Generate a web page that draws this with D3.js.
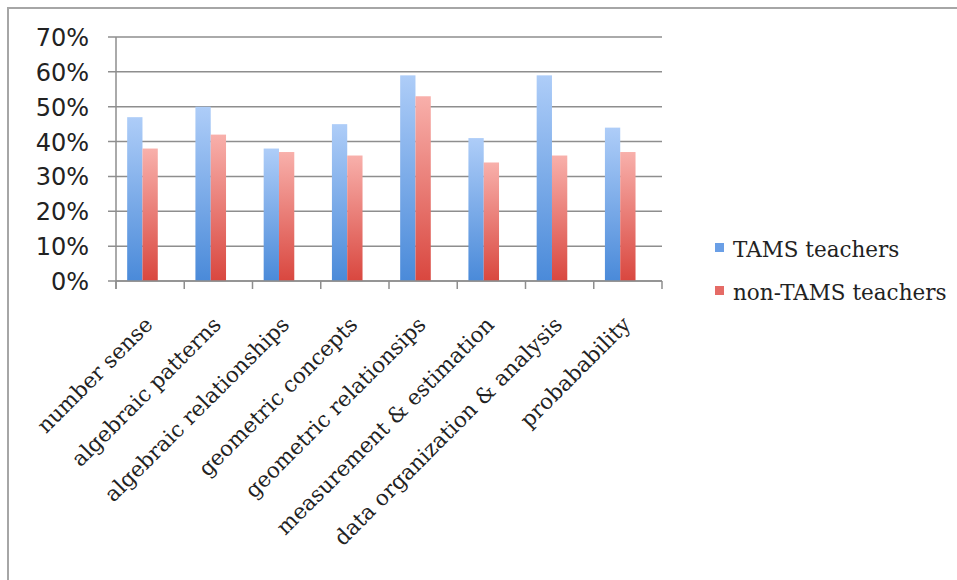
<!DOCTYPE html>
<html><head><meta charset="utf-8">
<script src="https://cdn.jsdelivr.net/npm/d3@7"></script>
<style>body{margin:0;background:#fff}svg{display:block}</style>
</head><body><svg id="c" width="957" height="580"></svg>
<script>
const categories = ["number sense","algebraic patterns","algebraic relationships","geometric concepts","geometric relationsips","measurement & estimation","data organization & analysis","probabability"];
const seriesNames = ["TAMS teachers","non-TAMS teachers"];
const tamsValues = [0.47,0.50,0.38,0.45,0.59,0.41,0.59,0.44];
const nonTamsValues = [0.38,0.42,0.37,0.36,0.53,0.34,0.36,0.37];
const yTicks = [0,0.1,0.2,0.3,0.4,0.5,0.6,0.7];

const svg = d3.select("#c");
const defs = svg.append("defs");
function grad(id, top, bottom){
  const g = defs.append("linearGradient").attr("id",id).attr("x1",0).attr("y1",0).attr("x2",0).attr("y2",1);
  g.append("stop").attr("offset","0%").attr("stop-color",top);
  g.append("stop").attr("offset","100%").attr("stop-color",bottom);
}
grad("gBlue","#aecdf8","#4a8ad9");
grad("gRed","#f8b0ab","#d9473f");
const fills = ["url(#gBlue)","url(#gRed)"];
const legendFills = ["#6a9fe6","#e56b66"];

// frame
svg.append("path").attr("d","M8,580 V8 H957").attr("fill","none").attr("stroke","#a6a6a6").attr("stroke-width",2);

const L=116, R=662, T=37, B=281;
const y = d3.scaleLinear().domain([0,0.7]).range([B,T]);
const x0 = d3.scaleBand().domain(categories).range([L,R]).padding(0);
const x1 = d3.scaleBand().domain(["s0","s1","empty"]).range([0,x0.bandwidth()]).paddingInner(0).paddingOuter(0.73);

// gridlines
svg.append("g").selectAll("line").data(yTicks).join("line")
  .attr("x1",L-8).attr("x2",R).attr("y1",d=>y(d)).attr("y2",d=>y(d))
  .attr("stroke","#8e8e8e").attr("stroke-width",1.5);

// y labels
svg.append("g").selectAll("text").data(yTicks).join("text")
  .attr("x",89).attr("y",d=>y(d)+9)
  .attr("text-anchor","end").attr("font-family","DejaVu Sans").attr("font-size",24).attr("fill","#222")
  .text(d=>d3.format(".0%")(d));

// bars
const series = [tamsValues, nonTamsValues];
series.forEach((vals,si)=>{
  svg.append("g").selectAll("rect").data(vals).join("rect")
    .attr("x",(d,i)=>x0(categories[i])+x1("s"+si))
    .attr("width",x1.bandwidth())
    .attr("y",d=>y(d)).attr("height",d=>B-y(d))
    .attr("fill",fills[si]);
});

// axes lines
svg.append("line").attr("x1",L).attr("x2",L).attr("y1",T).attr("y2",B+8).attr("stroke","#8e8e8e").attr("stroke-width",1.5);
svg.append("line").attr("x1",L).attr("x2",R).attr("y1",B).attr("y2",B).attr("stroke","#8e8e8e").attr("stroke-width",1.5);
const bounds = categories.map(c=>x0(c)).concat([R]);
svg.append("g").selectAll("line").data(bounds).join("line")
  .attr("x1",d=>d).attr("x2",d=>d).attr("y1",B).attr("y2",B+8)
  .attr("stroke","#8e8e8e").attr("stroke-width",1.5);

// category labels
svg.append("g").selectAll("text").data(categories).join("text")
  .attr("transform",d=>`translate(${x0(d)+x0.bandwidth()/2+4},${B+45}) rotate(-45)`)
  .attr("text-anchor","end").attr("font-family","DejaVu Serif").attr("font-size",21.5).attr("fill","#222")
  .text(d=>d);

// legend
const lg = svg.append("g");
seriesNames.forEach((n,i)=>{
  lg.append("rect").attr("x",715).attr("y",243+i*43).attr("width",9).attr("height",9).attr("fill",legendFills[i]);
  lg.append("text").attr("x",733).attr("y",257+i*43).attr("font-family","DejaVu Serif").attr("font-size",21.5).attr("fill","#222").text(n);
});
</script></body></html>
